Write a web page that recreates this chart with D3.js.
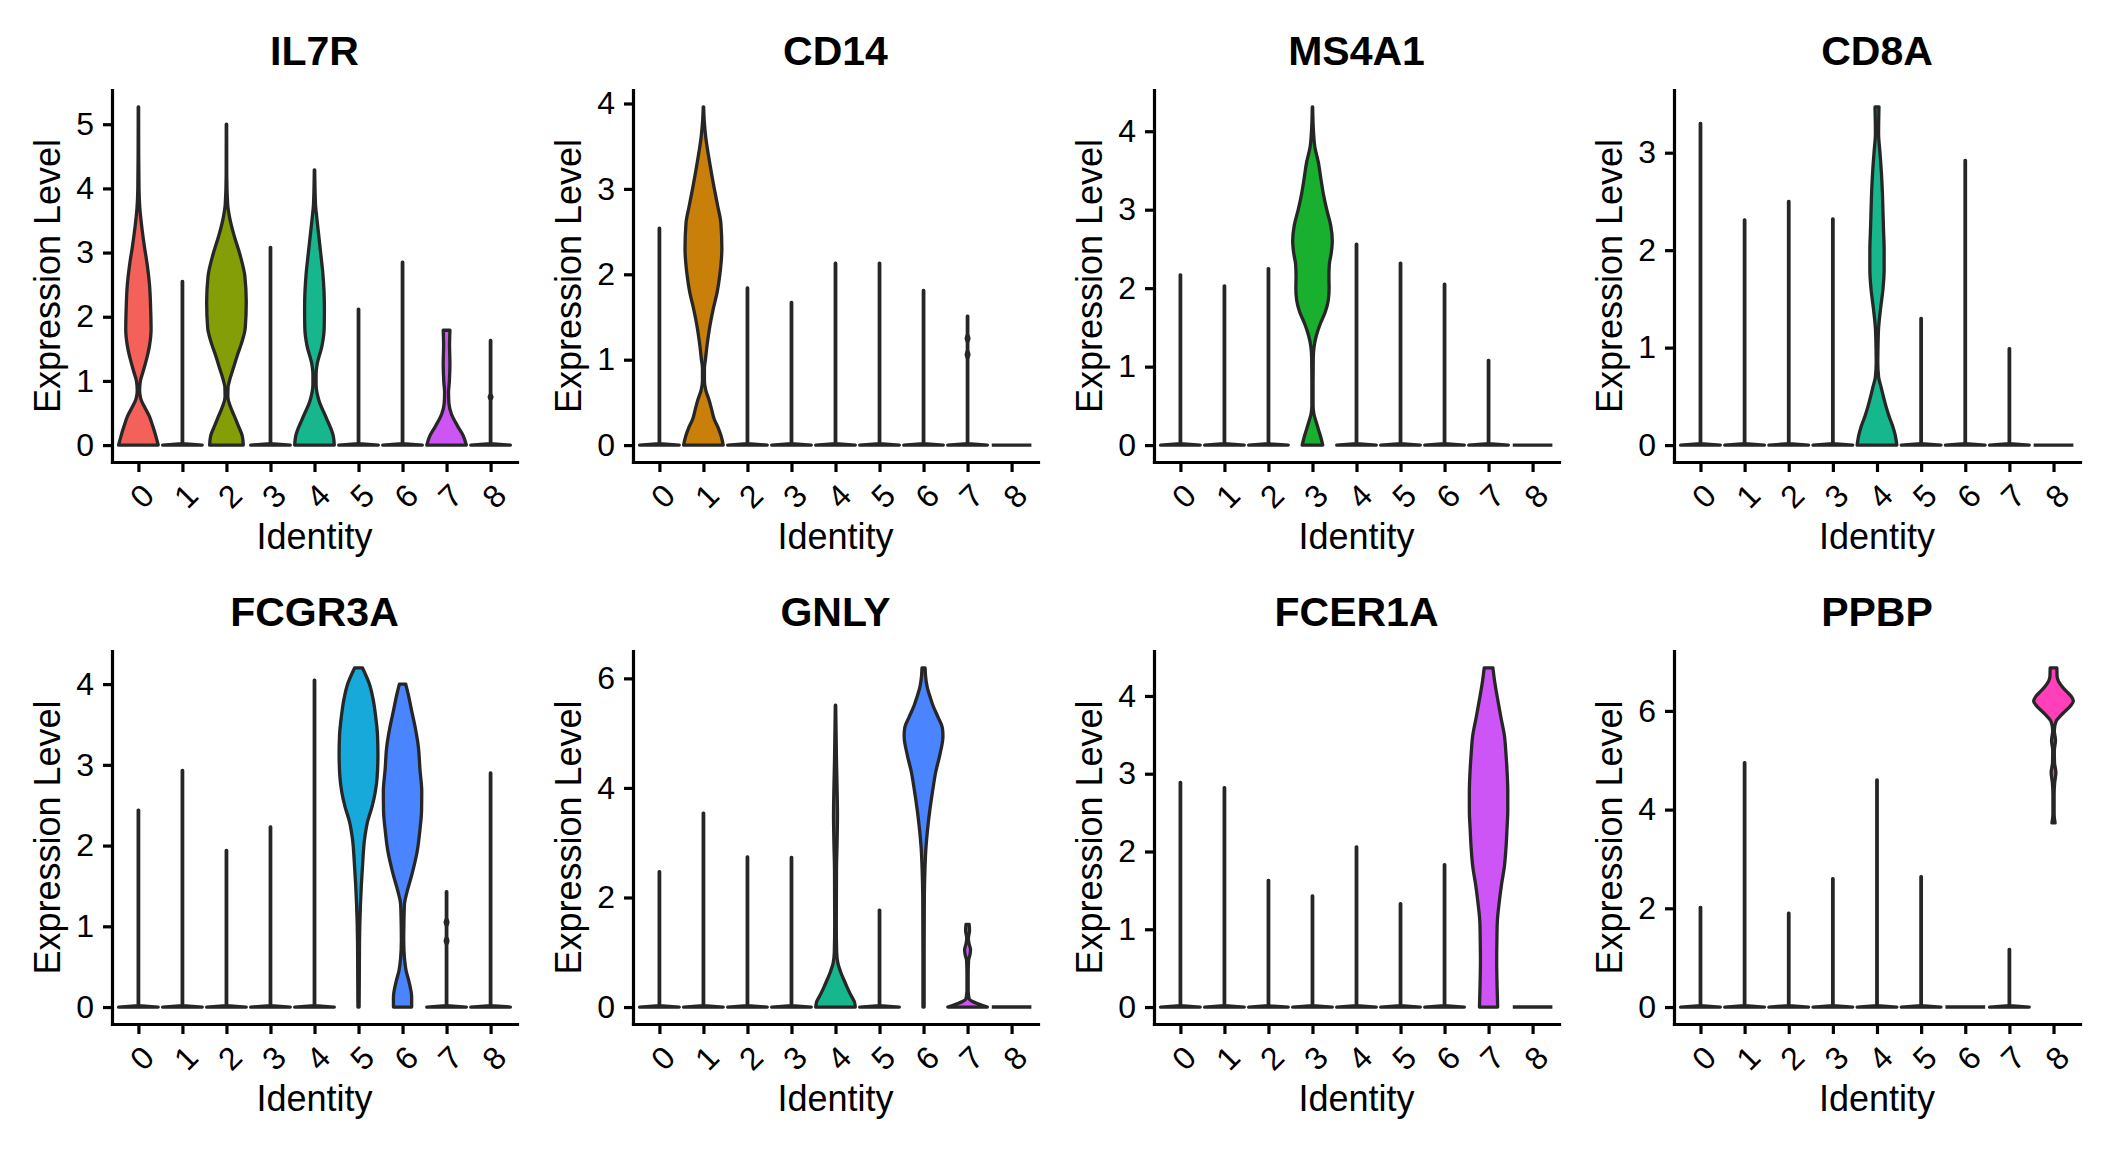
<!DOCTYPE html>
<html>
<head>
<meta charset="utf-8">
<script src="https://cdn.jsdelivr.net/npm/d3@7"></script>
<style>
  html, body { margin: 0; padding: 0; background: #ffffff; }
  svg { display: block; }
  text { font-family: "Liberation Sans", Arial, Helvetica, sans-serif; fill: #000; }
</style>
</head>
<body>
<script>
// ---------------- DATA ----------------
const clusters = ["0", "1", "2", "3", "4", "5", "6", "7", "8"];
const genes = ["IL7R", "CD14", "MS4A1", "CD8A", "FCGR3A", "GNLY", "FCER1A", "PPBP"];
const clusterColors = ["#F4605A", "#C8800A", "#849E08", "#18B02E", "#17B78E", "#17A9DA", "#4A84FF", "#CE55F5", "#FF40BA"];

// y tick labels per gene
const il7rTicks = [0, 1, 2, 3, 4, 5];
const cd14Ticks = [0, 1, 2, 3, 4];
const ms4a1Ticks = [0, 1, 2, 3, 4];
const cd8aTicks = [0, 1, 2, 3];
const fcgr3aTicks = [0, 1, 2, 3, 4];
const gnlyTicks = [0, 2, 4, 6];
const fcer1aTicks = [0, 1, 2, 3, 4];
const ppbpTicks = [0, 2, 4, 6];

// maximum expression per cluster (0 = all cells zero)
const il7rTop = [5.27, 2.55, 5.00, 3.08, 4.29, 2.12, 2.85, 1.79, 1.63];
const cd14Top = [2.54, 3.96, 1.84, 1.67, 2.13, 2.13, 1.81, 1.51, 0];
const ms4a1Top = [2.17, 2.03, 2.25, 4.31, 2.56, 2.32, 2.05, 1.08, 0];
const cd8aTop = [3.30, 2.31, 2.50, 2.32, 3.47, 1.30, 2.92, 0.99, 0];
const fcgr3aTop = [2.44, 2.93, 1.94, 2.23, 4.05, 4.20, 4.00, 1.43, 2.90];
const gnlyTop = [2.47, 3.54, 2.74, 2.73, 5.51, 1.77, 6.19, 1.51, 0];
const fcer1aTop = [2.89, 2.82, 1.63, 1.43, 2.06, 1.33, 1.83, 4.36, 0];
const ppbpTop = [2.02, 4.95, 1.90, 2.60, 4.60, 2.64, 0, 1.17, 6.87];

// violin density profiles: [expression value, relative half width]
const il7rShapes = [
  [[0,1.0],[0.14,0.88],[0.3,0.72],[0.45,0.55],[0.6,0.3],[0.72,0.12],[0.85,0.06],[1.0,0.1],[1.15,0.24],[1.35,0.42],[1.55,0.56],[1.8,0.64],[2.1,0.62],[2.5,0.56],[2.8,0.45],[3.1,0.3],[3.4,0.17],[3.7,0.07],[4.0,0.03],[4.5,0.015],[5.27,0.01]],
  null,
  [[0,0.85],[0.14,0.8],[0.3,0.6],[0.45,0.4],[0.6,0.2],[0.75,0.07],[0.9,0.08],[1.0,0.15],[1.2,0.35],[1.4,0.55],[1.55,0.72],[1.83,0.95],[2.23,1.0],[2.63,0.93],[2.97,0.68],[3.25,0.4],[3.53,0.17],[3.76,0.06],[4.2,0.015],[5.0,0.01]],
  null,
  [[0,1.0],[0.14,0.95],[0.42,0.6],[0.7,0.22],[0.95,0.08],[1.1,0.08],[1.27,0.14],[1.55,0.38],[1.83,0.49],[2.12,0.5],[2.4,0.48],[2.68,0.42],[2.97,0.32],[3.25,0.22],[3.53,0.12],[3.76,0.05],[4.29,0.01]],
  null,
  null,
  [[0,1.0],[0.14,0.85],[0.3,0.55],[0.48,0.25],[0.65,0.12],[0.82,0.1],[0.99,0.14],[1.27,0.17],[1.55,0.15],[1.79,0.17]],
  null
];
const cd14Shapes = [
  null,
  [[0,1.0],[0.1,0.9],[0.2,0.75],[0.3,0.55],[0.43,0.4],[0.53,0.28],[0.64,0.12],[0.75,0.05],[0.9,0.05],[1.0,0.1],[1.2,0.2],[1.4,0.33],[1.6,0.5],[1.8,0.7],[2.0,0.83],[2.3,0.93],[2.6,0.88],[2.8,0.72],[3.0,0.55],[3.3,0.32],[3.6,0.12],[3.8,0.04],[3.96,0.01]],
  null, null, null, null, null, null, null
];
const ms4a1Shapes = [
  null, null, null,
  [[0,0.52],[0.1,0.42],[0.2,0.3],[0.3,0.18],[0.4,0.07],[0.5,0.03],[0.8,0.03],[1.1,0.04],[1.25,0.08],[1.4,0.2],[1.55,0.4],[1.7,0.65],[1.85,0.8],[2.0,0.84],[2.15,0.83],[2.3,0.85],[2.45,0.95],[2.6,1.0],[2.8,0.92],[3.0,0.72],[3.2,0.55],[3.4,0.42],[3.6,0.3],[3.8,0.12],[4.0,0.05],[4.31,0.01]],
  null, null, null, null, null
];
const cd8aShapes = [
  null, null, null, null,
  [[0,1.0],[0.1,0.92],[0.2,0.78],[0.3,0.6],[0.4,0.45],[0.5,0.32],[0.6,0.2],[0.7,0.08],[0.85,0.04],[1.0,0.05],[1.2,0.08],[1.4,0.18],[1.6,0.3],[1.8,0.36],[2.0,0.36],[2.2,0.33],[2.4,0.3],[2.6,0.27],[2.8,0.22],[3.0,0.15],[3.2,0.08],[3.47,0.1]],
  null, null, null, null
];
const fcgr3aShapes = [
  null, null, null, null, null,
  [[0,0.03],[0.36,0.04],[0.82,0.05],[1.28,0.1],[1.74,0.2],[2.11,0.32],[2.3,0.46],[2.48,0.68],[2.67,0.85],[2.85,0.94],[3.13,0.98],[3.36,0.96],[3.59,0.87],[3.82,0.73],[4.0,0.55],[4.2,0.2]],
  [[0,0.46],[0.12,0.46],[0.31,0.33],[0.45,0.18],[0.6,0.1],[0.82,0.06],[1.05,0.07],[1.28,0.1],[1.42,0.22],[1.65,0.48],[1.93,0.74],[2.2,0.88],[2.43,0.96],[2.67,0.97],[2.94,0.88],[3.22,0.8],[3.45,0.65],[3.68,0.45],[3.86,0.3],[4.0,0.16]],
  null, null
];
const gnlyShapes = [
  null, null, null, null,
  [[0,1.0],[0.1,0.95],[0.2,0.8],[0.35,0.6],[0.5,0.42],[0.65,0.25],[0.8,0.12],[1.0,0.06],[1.5,0.04],[2.5,0.05],[3.0,0.08],[3.5,0.1],[4.0,0.08],[4.5,0.05],[5.0,0.03],[5.51,0.01]],
  null,
  [[0,0.03],[1.0,0.03],[2.0,0.04],[2.5,0.07],[2.9,0.12],[3.3,0.22],[3.6,0.32],[4.0,0.48],[4.3,0.62],[4.6,0.82],[4.95,0.98],[5.1,0.95],[5.3,0.72],[5.5,0.48],[5.65,0.34],[5.85,0.18],[6.05,0.1],[6.19,0.08]],
  [[0,1.0],[0.05,0.6],[0.1,0.25],[0.15,0.08],[0.3,0.03],[0.6,0.03],[0.85,0.05],[0.95,0.12],[1.05,0.15],[1.15,0.08],[1.25,0.04],[1.4,0.1],[1.51,0.08]],
  null
];
const fcer1aShapes = [
  null, null, null, null, null, null, null,
  [[0,0.46],[0.61,0.41],[0.85,0.42],[1.09,0.44],[1.33,0.53],[1.57,0.65],[1.81,0.8],[2.05,0.88],[2.29,0.93],[2.53,0.97],[2.77,0.97],[3.0,0.94],[3.25,0.88],[3.49,0.8],[3.73,0.62],[3.97,0.45],[4.2,0.3],[4.36,0.22]],
  null
];
const ppbpShapes = [
  null, null, null, null, null, null, null, null,
  [[3.73,0.08],[3.9,0.03],[4.3,0.03],[4.55,0.06],[4.75,0.12],[4.95,0.05],[5.2,0.04],[5.4,0.1],[5.6,0.04],[5.78,0.12],[5.9,0.35],[6.0,0.6],[6.1,0.85],[6.2,1.0],[6.3,0.88],[6.4,0.64],[6.5,0.42],[6.6,0.25],[6.7,0.18],[6.87,0.17]]
];

// small isolated density bumps on otherwise thin violins: [cluster index, value]
const il7rBlips = [[8, 0.75]];
const cd14Blips = [[7, 1.25], [7, 1.06]];
const fcgr3aBlips = [[7, 1.05], [7, 0.82]];

// tables built from the arrays above
const geneTicks = [il7rTicks, cd14Ticks, ms4a1Ticks, cd8aTicks, fcgr3aTicks, gnlyTicks, fcer1aTicks, ppbpTicks];
const geneTops = [il7rTop, cd14Top, ms4a1Top, cd8aTop, fcgr3aTop, gnlyTop, fcer1aTop, ppbpTop];
const geneShapes = [il7rShapes, cd14Shapes, ms4a1Shapes, cd8aShapes, fcgr3aShapes, gnlyShapes, fcer1aShapes, ppbpShapes];
const geneBlips = [il7rBlips, cd14Blips, [], [], fcgr3aBlips, [], [], []];

// ---------------- LAYOUT ----------------
const W = 2112, H = 1152;
const colLeft = [112, 633, 1154, 1674];
const colRight = [517, 1038, 1559, 2080];
const rowTop = [90, 651];
const rowBottom = [462, 1024];
const outline = "#262626";
const FONT = '"Liberation Sans", Arial, Helvetica, sans-serif';

const svg = d3.select("body").append("svg")
  .attr("width", W).attr("height", H)
  .attr("viewBox", `0 0 ${W} ${H}`);
svg.append("rect").attr("width", W).attr("height", H).attr("fill", "#fff");

genes.forEach((gene, gi) => {
  const L = colLeft[gi % 4], R = colRight[gi % 4];
  const T = rowTop[Math.floor(gi / 4)], B = rowBottom[Math.floor(gi / 4)];
  const tops = geneTops[gi], shapes = geneShapes[gi], blips = geneBlips[gi];

  const M = d3.max(tops.map((t, i) => shapes[i] ? d3.max(shapes[i], d => d[0]) : t));
  const y = d3.scaleLinear().domain([-0.05 * M, 1.05 * M]).range([B, T]);
  const x = d3.scalePoint().domain(clusters).range([L, R]).padding(0.6);
  const hw = 0.45 * x.step();

  const g = svg.append("g");

  // violins
  clusters.forEach((c, i) => {
    const cx = x(c);
    let prof, curve;
    if (shapes[i]) {
      prof = shapes[i];
      curve = d3.curveMonotoneY;
    } else {
      const top = tops[i];
      if (top <= 0) {
        g.append("line")
          .attr("x1", cx - hw).attr("x2", cx + hw)
          .attr("y1", y(0)).attr("y2", y(0))
          .attr("stroke", outline).attr("stroke-width", 3.4);
        return;
      }
      prof = [[0, 1], [0.004 * M, 0.012]];
      blips.filter(b => b[0] === i).map(b => b[1]).sort((a, b) => a - b).forEach(v => {
        prof.push([v - 0.05, 0.012], [v, 0.07], [v + 0.05, 0.012]);
      });
      prof.push([top, 0.012]);
      curve = d3.curveLinear;
    }
    const area = d3.area()
      .curve(curve)
      .y(d => y(d[0]))
      .x0(d => cx - d[1] * hw)
      .x1(d => cx + d[1] * hw);
    g.append("path")
      .attr("d", area(prof))
      .attr("fill", clusterColors[i])
      .attr("stroke", outline)
      .attr("stroke-width", 3.3)
      .attr("stroke-linejoin", "round");
  });

  // y axis
  const ya = g.append("g")
    .attr("transform", `translate(${L},0)`)
    .call(d3.axisLeft(y).tickValues(geneTicks[gi]).tickSize(9).tickSizeOuter(0).tickPadding(9).tickFormat(d3.format("d")));
  // x axis
  const xa = g.append("g")
    .attr("transform", `translate(0,${B})`)
    .call(d3.axisBottom(x).tickSize(10).tickSizeOuter(0));

  [ya, xa].forEach(a => {
    a.select(".domain").attr("stroke", "#000").attr("stroke-width", 3.2).attr("stroke-linecap", "square");
    a.selectAll(".tick line").attr("stroke", "#000").attr("stroke-width", 3.2);
    a.selectAll("text").attr("font-size", 32).attr("fill", "#000").attr("font-family", FONT);
  });
  xa.selectAll(".tick text")
    .attr("y", 0).attr("dy", "0.35em")
    .attr("text-anchor", "middle")
    .attr("transform", "translate(3,34) rotate(-45)");

  // titles
  g.append("text")
    .attr("x", (L + R) / 2).attr("y", T - 25)
    .attr("text-anchor", "middle")
    .attr("font-size", 41).attr("font-weight", "bold")
    .text(gene);
  g.append("text")
    .attr("transform", `translate(${L - 52},${(T + B) / 2}) rotate(-90)`)
    .attr("text-anchor", "middle")
    .attr("font-size", 36)
    .text("Expression Level");
  g.append("text")
    .attr("x", (L + R) / 2).attr("y", B + 87)
    .attr("text-anchor", "middle")
    .attr("font-size", 36)
    .text("Identity");
});
</script>
</body>
</html>
